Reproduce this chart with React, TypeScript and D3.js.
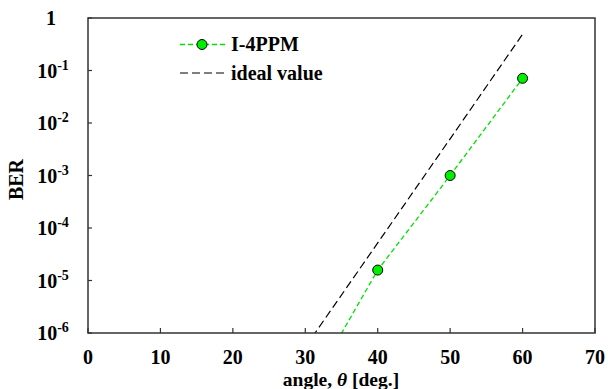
import React from "react";
import * as d3 from "d3";

const angles = [30, 40, 50, 60];
const i4ppm = [6.2e-8, 1.58e-5, 1.0e-3, 0.071];
const idealAngles = [30, 40, 50, 60];
const idealBer = [5.4e-7, 5.2e-5, 5.0e-3, 0.49];
const xTicks = [0, 10, 20, 30, 40, 50, 60, 70];
const yTicks = [1, 1e-1, 1e-2, 1e-3, 1e-4, 1e-5, 1e-6];
const yExp = [0, -1, -2, -3, -4, -5, -6];
const seriesNames = ["I-4PPM", "ideal value"];

const W = 608, H = 389;
const L = 88, R = 595, T = 18, B = 333;
const FONT = '"Liberation Serif", "Times New Roman", Tinos, "DejaVu Serif", serif';

export default function App() {
  const x = d3.scaleLinear().domain([0, 70]).range([L, R]);
  const y = d3.scaleLog().domain([1e-6, 1]).range([B, T]);
  const line = d3.line<[number, number]>().x(d => x(d[0])).y(d => y(d[1]));
  const greenPts: [number, number][] = angles.map((a, i) => [a, i4ppm[i]]);
  const idealPts: [number, number][] = idealAngles.map((a, i) => [a, idealBer[i]]);
  const axisColor = "#333";
  const ts: React.CSSProperties = { fontFamily: FONT, fontWeight: 700, fontSize: 20 };
  return (
    <svg width={W} height={H} style={{ position: "absolute", left: 0, top: 0, background: "#fff", fontFamily: FONT }}>
      <defs>
        <clipPath id="plotclip">
          <rect x={L} y={T} width={R - L} height={B - T} />
        </clipPath>
      </defs>
      <rect x={0} y={0} width={W} height={H} fill="#fff" />
      <g clipPath="url(#plotclip)">
        <path d={line(idealPts) || ""} fill="none" stroke="#000" strokeWidth={1.2} strokeDasharray="8,4" />
        <path d={line(greenPts) || ""} fill="none" stroke="#00e000" strokeWidth={1.3} strokeDasharray="5,3" />
        {greenPts.map((p, i) => (
          <circle key={i} cx={x(p[0])} cy={y(p[1])} r={5} fill="#00ee00" stroke="#000" strokeWidth={1} />
        ))}
      </g>
      <rect x={L} y={T} width={R - L} height={B - T} fill="none" stroke={axisColor} strokeWidth={1.5} />
      {xTicks.map(t => (
        <g key={t}>
          <line x1={x(t)} x2={x(t)} y1={B} y2={B - 5} stroke={axisColor} strokeWidth={1.2} />
          <text x={x(t)} y={364} textAnchor="middle" style={ts}>{t}</text>
        </g>
      ))}
      {yTicks.map((t, i) => (
        <g key={i}>
          <line x1={L} x2={L + 4} y1={y(t)} y2={y(t)} stroke={axisColor} strokeWidth={1.2} />
          {yExp[i] === 0 ? (
            <text x={51} y={y(t) + 7} textAnchor="middle" style={ts}>1</text>
          ) : (
            <text x={53} y={y(t) + 7} textAnchor="middle" style={ts}>
              10<tspan style={{ fontSize: 14 }} dy={-8}>{yExp[i]}</tspan>
            </text>
          )}
        </g>
      ))}
      <text x={341} y={386} textAnchor="middle" style={{ ...ts, fontSize: 19.5 }}>
        angle, <tspan style={{ fontStyle: "italic" }}>θ</tspan> [deg.]
      </text>
      <text transform={`translate(23,${(T + B) / 2 + 4}) rotate(-90)`} textAnchor="middle" style={ts}>BER</text>
      <line x1={180} x2={225} y1={44.5} y2={44.5} stroke="#00e000" strokeWidth={1.3} strokeDasharray="5,3" />
      <circle cx={202} cy={44.5} r={5} fill="#00ee00" stroke="#000" strokeWidth={1} />
      <text x={231} y={51} style={ts}>{seriesNames[0]}</text>
      <line x1={180} x2={225} y1={73} y2={73} stroke="#000" strokeWidth={1.2} strokeDasharray="8,4" />
      <text x={231} y={80} style={ts}>{seriesNames[1]}</text>
    </svg>
  );
}
